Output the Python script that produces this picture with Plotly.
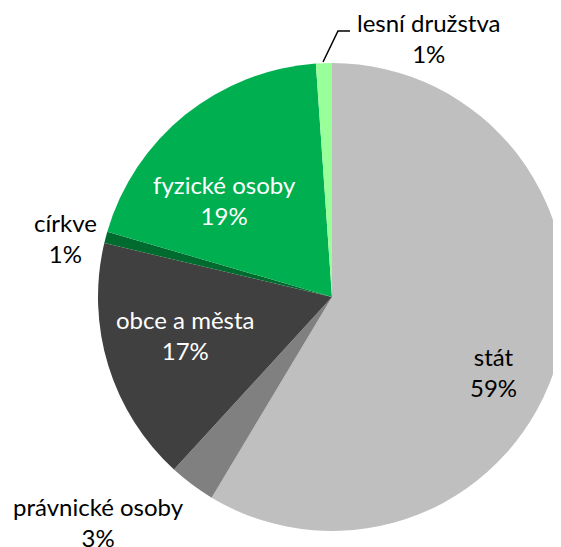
import plotly.graph_objects as go

labels = ["stát", "právnické osoby", "obce a města", "církve", "fyzické osoby", "lesní družstva"]
values = [58.6, 3.2, 16.9, 0.8, 19.4, 1.1]
colors = ["#BFBFBF", "#808080", "#404040", "#006B2E", "#00B050", "#99FF99"]

W, H = 561, 547
OFF = 8  # page body margin offset
total = sum(values)
pct = [f"{round(v / total * 100):.0f}%" for v in values]

cx, cy, r = 332 - OFF, 297 - OFF, 234

fig = go.Figure(go.Pie(
    labels=labels, values=values, sort=False, direction="clockwise", rotation=0,
    marker=dict(colors=colors, line=dict(width=0)),
    textinfo="none", hoverinfo="label+percent", showlegend=False,
    domain=dict(x=[(cx - r) / W, (cx + r) / W], y=[(H - cy - r) / H, (H - cy + r) / H]),
))

# label anchor positions (target pixels) and text colours
pos = {
    "stát": (493, 372, "#000000"),
    "právnické osoby": (98, 522, "#000000"),
    "obce a města": (186, 335, "#FFFFFF"),
    "církve": (65, 238, "#000000"),
    "fyzické osoby": (225, 200, "#FFFFFF"),
    "lesní družstva": (428, 38, "#000000"),
}
font_family = "Lato, Open Sans, sans-serif"
for lab, p in zip(labels, pct):
    x, y, c = pos[lab]
    fig.add_annotation(x=(x - OFF) / W, y=1 - (y - OFF) / H, xref="paper", yref="paper",
                       text=f"{lab}<br>{p}", showarrow=False,
                       font=dict(family=font_family, size=24, color=c),
                       xanchor="center", yanchor="middle", align="center")

def px(x, y):
    return f"{(x - OFF) / W} {1 - (y - OFF) / H}"

fig.add_shape(type="path", xref="paper", yref="paper",
              path=f"M {px(323, 62)} L {px(338, 31)} L {px(350, 31)}",
              line=dict(color="#000000", width=1.5))

fig.update_layout(width=W, height=H, margin=dict(l=0, r=0, t=0, b=0),
                  paper_bgcolor="white", plot_bgcolor="white")
fig.write_html("out.html")
